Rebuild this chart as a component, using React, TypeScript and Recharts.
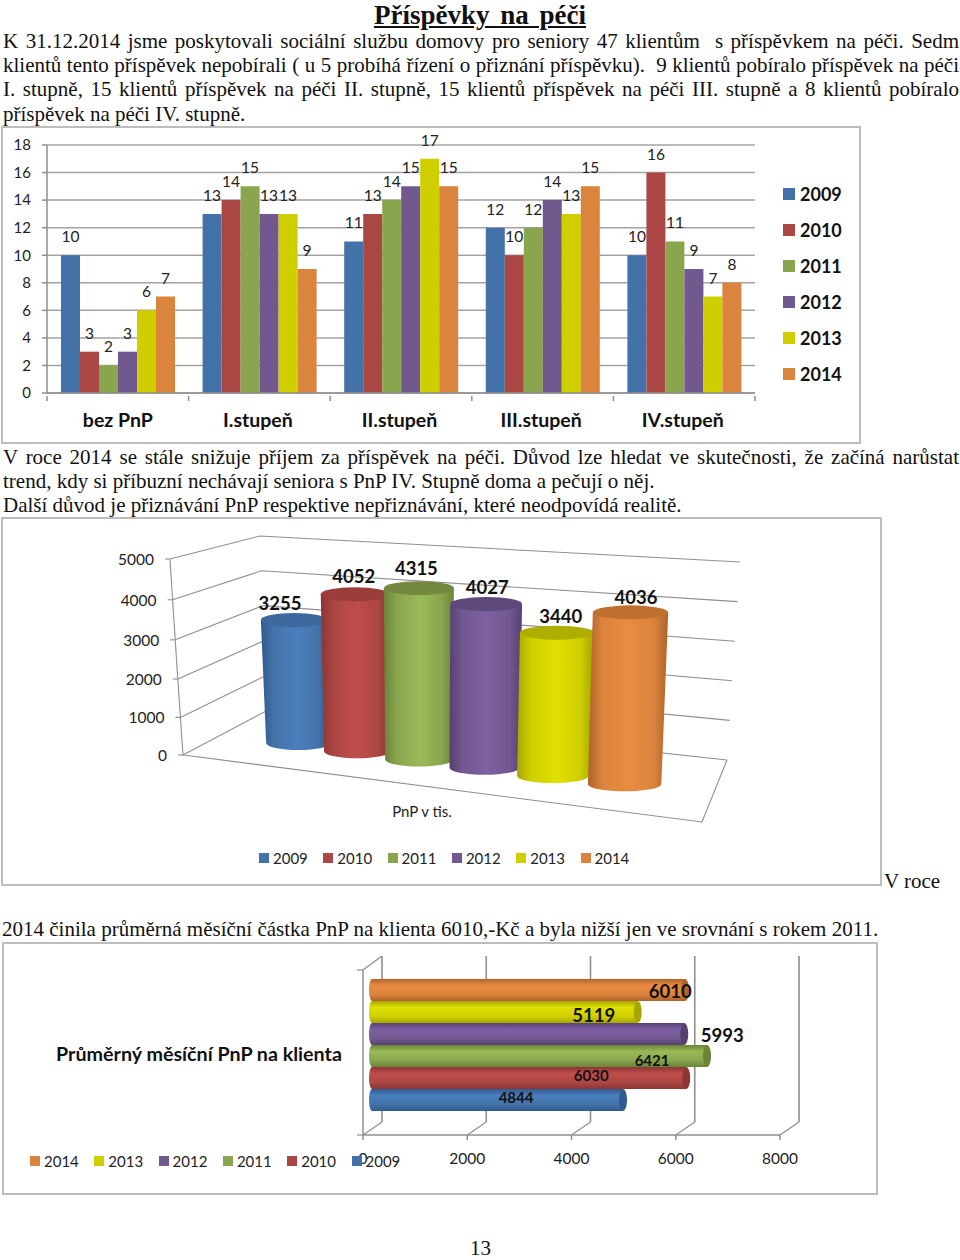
import { BarChart, Bar, XAxis, YAxis, CartesianGrid, Legend, LabelList } from "recharts";

const years = ["2009", "2010", "2011", "2012", "2013", "2014"];
const colors = ["#4372a8", "#aa4643", "#89a54e", "#71588f", "#cfcf00", "#db843d"];
const bright = ["#4a7fbe", "#c04d4a", "#9aba57", "#7f60a3", "#e0e000", "#ea8b40"];
const dark = ["#2f5b8f", "#8c3533", "#6b843a", "#574172", "#a6a600", "#ae6329"];
const capColors = ["#3b699d", "#9a3d3a", "#74883f", "#5e497b", "#aeae00", "#c0702e"];

// chart 1: clients per care level
const levels = ["bez PnP", "I.stupeň", "II.stupeň", "III.stupeň", "IV.stupeň"];
const clients2009 = [10, 13, 11, 12, 10];
const clients2010 = [3, 14, 13, 10, 16];
const clients2011 = [2, 15, 14, 12, 11];
const clients2012 = [3, 13, 15, 14, 9];
const clients2013 = [6, 13, 17, 13, 7];
const clients2014 = [7, 9, 15, 15, 8];
const clientSeries = [clients2009, clients2010, clients2011, clients2012, clients2013, clients2014];
const clientTicks = [0, 2, 4, 6, 8, 10, 12, 14, 16, 18];

// chart 2: income from PnP
const incomeValues = [3255, 4052, 4315, 4027, 3440, 4036];
const incomeTicks = [0, 1000, 2000, 3000, 4000, 5000];
const incomeLabelShift = [[-14, 0], [-1, -1], [-2.5, -3], [1, 0], [4, 0], [5.5, 2]];

// chart 3: average monthly PnP per client
const monthlyTitle = "Průměrný měsíční PnP na klienta";
const monthlyValues = [4844, 6030, 6421, 5993, 5119, 6010];
const monthlyTicks = [0, 2000, 4000, 6000, 8000];
const monthlyOrder = [5, 4, 3, 2, 1, 0];
const monthlyLabelShift = [[-111, -1], [-99, -1], [-59, 6], [34, 3], [-48, 5], [-19, 3]];
const monthlyLabelSize = [15, 15, 15, 18.5, 18.5, 18.5];

const clientData = levels.map((name, i) => {
  const row: any = { name };
  years.forEach((y, s) => { row["y" + y] = clientSeries[s][i]; });
  return row;
});
const incomeRow: any = { name: "PnP v tis." };
years.forEach((y, s) => { incomeRow["y" + y] = incomeValues[s]; });
const monthlyRow: any = { name: monthlyTitle };
years.forEach((y, s) => { monthlyRow["y" + y] = monthlyValues[s]; });

const SERIF = "'Liberation Serif', serif";
const SANS = "Lato, sans-serif";
const FRAME = "#8f8f8f";

function Line_({ top, text, width = 956, left = 3, justify = true, height = 24 }: any) {
  return (
    <div style={{
      position: "absolute", left, top, width, height, lineHeight: "24px", fontFamily: SERIF, fontSize: 21,
      color: "#111", whiteSpace: justify ? "normal" : "nowrap", textAlign: justify ? "justify" : "left",
      textAlignLast: justify ? "justify" : "left",
    }}>{text}</div>
  );
}

function Box({ left, top, right, bottom }: any) {
  return <div style={{ position: "absolute", left, top, width: right - left, height: bottom - top, boxSizing: "border-box", border: "2px solid #bdbdbd" }} />;
}

// legend wrapper stays zero sized so the plot area is not pushed around
const zeroLegend = { left: 0, top: 0, width: 0, height: 0 };

function LegendColumn({ payload }: any) {
  return (
    <div>
      {(payload || []).map((p: any, i: number) => (
        <div key={p.value} style={{ position: "absolute", left: 783, top: 56 + i * 36, height: 24, width: 70, fontSize: 18, fontWeight: 700, color: "#111", lineHeight: "24px" }}>
          <span style={{ position: "absolute", left: 0, top: 6, width: 12, height: 12, background: p.color }} />
          <span style={{ position: "absolute", left: 17 }}>{p.value}</span>
        </div>
      ))}
    </div>
  );
}

function LegendRow({ payload, left, top }: any) {
  return (
    <div>
      {(payload || []).map((p: any, i: number) => (
        <div key={p.value} style={{ position: "absolute", left: left + i * 64.3, top, height: 20, width: 60, fontSize: 15, color: "#222", lineHeight: "20px" }}>
          <span style={{ position: "absolute", left: 0, top: 5, width: 10, height: 10, background: p.color }} />
          <span style={{ position: "absolute", left: 14 }}>{p.value}</span>
        </div>
      ))}
    </div>
  );
}

const BAND1 = 708 / levels.length;

function LevelTick({ x, y, payload, index }: any) {
  return (
    <g>
      <line x1={x - BAND1 / 2} x2={x - BAND1 / 2} y1={y - 5} y2={y} stroke={FRAME} strokeWidth={1.5} />
      {index === levels.length - 1 && <line x1={x + BAND1 / 2} x2={x + BAND1 / 2} y1={y - 5} y2={y} stroke={FRAME} strokeWidth={1.5} />}
      <text x={index === 0 ? x : x - 1.5} y={y + 21} textAnchor="middle" fontSize={19.5} fontWeight={700} fill="#111" dominantBaseline="middle">{payload.value}</text>
    </g>
  );
}

function ClientsChart() {
  return (
    <div style={{ position: "absolute", left: 0, top: 126, fontFamily: SANS }}>
      <BarChart width={960} height={317} data={clientData} margin={{ top: 19, right: 205, bottom: 0, left: 0 }} barCategoryGap={14} barGap={0}>
        <CartesianGrid vertical={false} stroke="#a3a3a3" strokeWidth={1.5} />
        <XAxis dataKey="name" height={50} tickLine={false} axisLine={{ stroke: FRAME, strokeWidth: 1.5 }} tick={<LevelTick />} interval={0} />
        <YAxis width={47} domain={[0, 18]} ticks={clientTicks} interval={0} tick={{ fill: "#222", fontSize: 15 }} tickMargin={11} tickSize={5} axisLine={{ stroke: FRAME, strokeWidth: 1.5 }} tickLine={{ stroke: FRAME, strokeWidth: 1.5 }} />
        <Legend layout="vertical" align="right" verticalAlign="top" itemSorter={null} wrapperStyle={zeroLegend} content={<LegendColumn />} />
        {years.map((y, s) => (
          <Bar key={y} dataKey={"y" + y} name={y} fill={colors[s]} isAnimationActive={false}>
            <LabelList dataKey={"y" + y} position="top" offset={13} fontSize={15.5} fill="#222" />
          </Bar>
        ))}
      </BarChart>
    </div>
  );
}

function Gradients() {
  return (
    <defs>
      {years.map((y, s) => (
        <linearGradient key={y} id={"cyl" + s} x1="0" y1="0" x2="1" y2="0">
          <stop offset="0%" stopColor={dark[s]} />
          <stop offset="18%" stopColor={colors[s]} />
          <stop offset="52%" stopColor={bright[s]} />
          <stop offset="82%" stopColor={colors[s]} />
          <stop offset="100%" stopColor={dark[s]} />
        </linearGradient>
      ))}
      {years.map((y, s) => (
        <linearGradient key={y} id={"tube" + s} x1="0" y1="0" x2="0" y2="1">
          <stop offset="0%" stopColor={dark[s]} />
          <stop offset="30%" stopColor={bright[s]} />
          <stop offset="70%" stopColor={colors[s]} />
          <stop offset="100%" stopColor={dark[s]} />
        </linearGradient>
      ))}
    </defs>
  );
}

// chart 2 is a fake perspective: the library's scale gives the value, these bend it on to the 3D floor
const TOP2 = 517;
const PLOT2_BOTTOM = 755 - TOP2;
const PLOT2_H = 196;

function frontPoint(t: number) {
  return { x: 183 - 13 * t, y: PLOT2_BOTTOM - PLOT2_H * t + 10 * t * (1 - t) };
}
function backPoint(t: number) {
  return { x: 268 - 8 * t, y: 710 - TOP2 - 174 * t };
}
function rightPoint(t: number) {
  return { x: 727 + 13 * t, y: 760 - TOP2 - 198 * t };
}

function WallLine({ y1 }: any) {
  const t = (PLOT2_BOTTOM - y1) / PLOT2_H;
  const f = frontPoint(t);
  const b = backPoint(t);
  const r = rightPoint(t);
  const down = frontPoint(Math.max(t - 0.2, 0));
  const corner = { x: 702, y: 822 - TOP2 };
  return (
    <g stroke={FRAME} fill="none" strokeWidth={1.1}>
      <polyline points={`${f.x},${f.y} ${b.x},${b.y} ${r.x},${r.y}`} />
      <line x1={f.x - 5} y1={f.y} x2={f.x} y2={f.y} />
      {t > 0 && <line x1={f.x} y1={f.y} x2={down.x} y2={down.y} />}
      {t === 0 && <polyline points={`${r.x},${r.y} ${corner.x},${corner.y} ${f.x},${f.y}`} />}
    </g>
  );
}

function IncomeTick({ payload }: any) {
  const t = payload.value / 5000;
  const f = frontPoint(t);
  return <text x={f.x - 16} y={f.y + 2} textAnchor="end" dominantBaseline="middle" fontSize={15.5} fill="#222">{payload.value}</text>;
}

function NameTick({ payload }: any) {
  return <text x={422} y={813 - TOP2} textAnchor="middle" dominantBaseline="middle" fontSize={15} fill="#222">{payload.value}</text>;
}

function Cylinder({ x, y, width, height, s, value }: any) {
  const cx = x + width / 2;
  const top = cx - 2 + 10 * ((cx - 455) / 169) ** 2 - (cx - 286) * 0.011;
  const lean = (cx - 430) * 0.03;
  const w = width * (0.975 + (cx - 286) * 0.000393);
  const h = height * (0.964 + (cx - 286) * 0.00036);
  const base = 743 - TOP2 + (cx - 286) * 0.1213;
  const ry = 7;
  const rx = w / 2;
  const yTop = base - h;
  const bot = top - lean;
  const d = `M${top - rx},${yTop} L${bot - rx + 1},${base} A${rx - 1},${ry} 0 0 0 ${bot + rx - 1},${base} L${top + rx},${yTop} Z`;
  return (
    <g>
      <path d={d} fill={`url(#cyl${s})`} />
      <ellipse cx={top} cy={yTop} rx={rx} ry={ry} fill={capColors[s]} />
      <text x={top + incomeLabelShift[s][0]} y={yTop - ry - 8 + incomeLabelShift[s][1]} textAnchor="middle" dominantBaseline="middle" fontSize={18.5} fontWeight={700} fill="#111">{value}</text>
    </g>
  );
}

function IncomeChart() {
  return (
    <div style={{ position: "absolute", left: 0, top: TOP2, fontFamily: SANS }}>
      <BarChart width={960} height={368} data={[incomeRow]} margin={{ top: 42, right: 233, bottom: 0, left: 0 }} barCategoryGap={69} barGap={0}>
        <Gradients />
        <CartesianGrid vertical={false} horizontal={(p: any) => <WallLine key={p.key} y1={p.y1} />} />
        <XAxis dataKey="name" height={130} axisLine={false} tickLine={false} tick={<NameTick />} />
        <YAxis width={183} domain={[0, 5000]} ticks={incomeTicks} interval={0} axisLine={false} tickLine={false} tick={<IncomeTick />} />
        <Legend verticalAlign="bottom" itemSorter={null} wrapperStyle={zeroLegend} content={<LegendRow left={259} top={331} />} />
        {years.map((y, s) => (
          <Bar key={y} dataKey={"y" + y} name={y} fill={colors[s]} isAnimationActive={false}
            shape={(p: any) => <Cylinder x={p.x} y={p.y} width={p.width} height={p.height} s={s} value={incomeValues[s]} />} />
        ))}
      </BarChart>
    </div>
  );
}

const TOP3 = 942;

function BackWall({ x1 }: any) {
  const floor = 1135 - TOP3;
  return (
    <g stroke={FRAME} fill="none">
      <line x1={x1 + 19} x2={x1 + 19} y1={956 - TOP3} y2={1122 - TOP3} strokeWidth={1.6} />
      <line x1={x1} x2={x1 + 19} y1={floor} y2={1122 - TOP3} strokeWidth={1.2} />
      <line x1={x1} x2={x1} y1={floor} y2={floor + 5} strokeWidth={1.5} />
      {x1 === 363 && (
        <g strokeWidth={1.2}>
          <line x1={363} x2={382} y1={970 - TOP3} y2={956 - TOP3} />
          <line x1={357} x2={363} y1={970 - TOP3} y2={970 - TOP3} />
          <line x1={357} x2={363} y1={floor} y2={floor} />
        </g>
      )}
    </g>
  );
}

function Tube({ x, y, width, height, s, value }: any) {
  const px = x + 6;
  const py = y - 7;
  const w = width * 1.022;
  const h = height;
  const d = `M${px + 3},${py} L${px + w - 4},${py} L${px + w - 4},${py + h} L${px + 3},${py + h} A3,${h / 2} 0 0 1 ${px + 3},${py} Z`;
  return (
    <g>
      <path d={d} fill={`url(#tube${s})`} />
      <ellipse cx={px + w - 4} cy={py + h / 2} rx={4} ry={h / 2} fill={dark[s]} />
      <text x={px + w + monthlyLabelShift[s][0]} y={py + h / 2 + monthlyLabelShift[s][1]} textAnchor="middle" dominantBaseline="middle" fontSize={monthlyLabelSize[s]} fontWeight={700} fill="#111">{value}</text>
    </g>
  );
}

function TitleTick({ payload }: any) {
  return <text x={199} y={1056 - TOP3} textAnchor="middle" dominantBaseline="middle" fontSize={19.7} fontWeight={700} fill="#111">{payload.value}</text>;
}

function MonthlyChart() {
  return (
    <div style={{ position: "absolute", left: 0, top: TOP3, fontFamily: SANS }}>
      <BarChart layout="vertical" width={960} height={252} data={[monthlyRow]} margin={{ top: 28, right: 180, bottom: 0, left: 0 }} barCategoryGap={16} barGap={0}>
        <Gradients />
        <CartesianGrid horizontal={false} vertical={(p: any) => <BackWall key={p.key} x1={p.x1} />} />
        <XAxis type="number" height={59} domain={[0, 8000]} ticks={monthlyTicks} interval={0} axisLine={{ stroke: FRAME, strokeWidth: 1.5 }} tickLine={false} tick={{ fill: "#222", fontSize: 15.5 }} tickMargin={12} />
        <YAxis type="category" dataKey="name" width={363} axisLine={{ stroke: FRAME, strokeWidth: 1.5 }} tickLine={false} tick={<TitleTick />} />
        <Legend verticalAlign="bottom" itemSorter={null} wrapperStyle={zeroLegend} content={<LegendRow left={30} top={209} />} />
        {monthlyOrder.map((s) => (
          <Bar key={years[s]} dataKey={"y" + years[s]} name={years[s]} fill={colors[s]} isAnimationActive={false}
            shape={(p: any) => <Tube x={p.x} y={p.y} width={p.width} height={p.height} s={s} value={monthlyValues[s]} />} />
        ))}
      </BarChart>
    </div>
  );
}

export default function App() {
  return (
    <div style={{ position: "absolute", left: 0, top: 0, width: 960, height: 1260, background: "#fff", overflow: "hidden" }}>
      <div style={{ position: "absolute", left: 0, top: 0, width: 960, height: 31, textAlign: "center", fontFamily: SERIF, fontSize: 27, wordSpacing: 4, fontWeight: 700, textDecoration: "underline", color: "#111", lineHeight: "31px" }}>Příspěvky na péči</div>
      <Line_ top={29} text={"K 31.12.2014 jsme poskytovali sociální službu domovy pro seniory 47 klientům \u00a0s příspěvkem na péči. Sedm"} />
      <Line_ top={53} text={"klientů tento příspěvek nepobírali ( u 5 probíhá řízení o přiznání příspěvku). \u00a09 klientů pobíralo příspěvek na péči"} />
      <Line_ top={77} text="I. stupně, 15 klientů příspěvek na péči II. stupně, 15 klientů příspěvek na péči III. stupně a 8 klientů pobíralo" />
      <Line_ top={102} justify={false} text="příspěvek na péči IV. stupně." />
      <Box left={1} top={126} right={861} bottom={444} />
      <ClientsChart />
      <Line_ top={445} text="V roce 2014 se stále snižuje příjem za příspěvek na péči. Důvod lze hledat ve skutečnosti, že začíná narůstat" />
      <Line_ top={469} justify={false} text="trend, kdy si příbuzní nechávají seniora s PnP IV. Stupně doma a pečují o něj." />
      <Line_ top={493} justify={false} text="Další důvod je přiznávání PnP respektive nepřiznávání, které neodpovídá realitě." />
      <Box left={1} top={517} right={882} bottom={886} />
      <IncomeChart />
      <Line_ top={869} left={884} justify={false} width={70} text="V roce" />
      <Line_ top={917} left={2} justify={false} width={900} text="2014 činila průměrná měsíční částka PnP na klienta 6010,-Kč a byla nižší jen ve srovnání s rokem 2011." />
      <Box left={2} top={942} right={878} bottom={1195} />
      <MonthlyChart />
      <Line_ top={1236} left={470} justify={false} width={40} text="13" />
    </div>
  );
}
